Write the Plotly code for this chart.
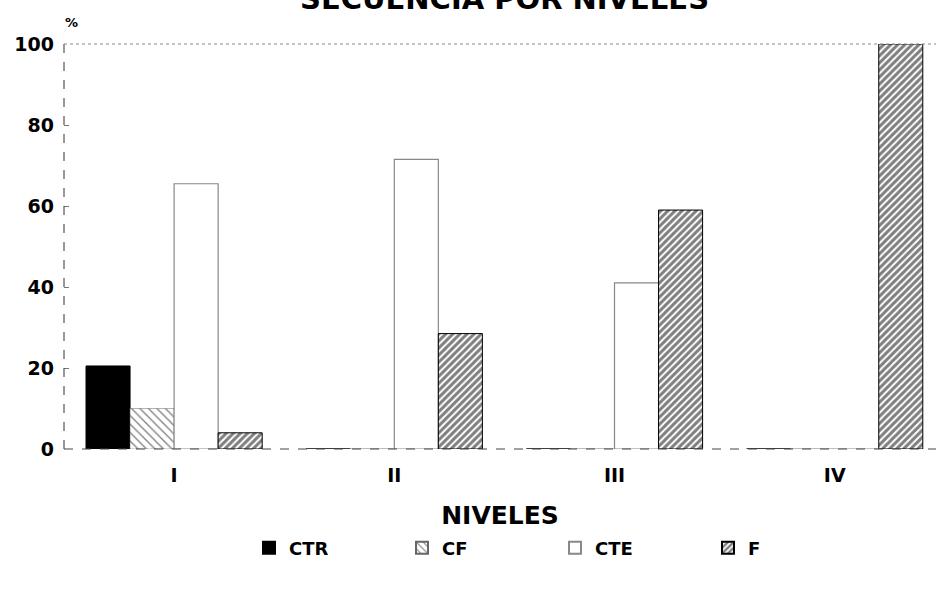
import plotly.graph_objects as go

niveles = ["I", "II", "III", "IV"]
ctr = [20.5, 0, 0, 0]
cf = [10, 0, 0, 0]
cte = [65.5, 71.5, 41, 0]
f = [4, 28.5, 59, 100]
y_ticks = [0, 20, 40, 60, 80, 100]

FONT = "DejaVu Sans, Liberation Sans, Arial, sans-serif"
TOP = 44
PLOT_H = 405

fig = go.Figure()
fig.add_trace(go.Bar(name="CTR", x=niveles, y=ctr,
                     marker=dict(color="black", line=dict(color="black", width=1))))
fig.add_trace(go.Bar(name="CF", x=niveles, y=cf,
                     marker=dict(color="white", line=dict(color="#666", width=0.5),
                                 pattern=dict(shape="\\", fgcolor="black", bgcolor="white",
                                              size=6, solidity=0.22))))
fig.add_trace(go.Bar(name="CTE", x=niveles, y=cte,
                     marker=dict(color="white", line=dict(color="#888", width=1.2))))
fig.add_trace(go.Bar(name="F", x=niveles, y=f,
                     marker=dict(color="white", line=dict(color="black", width=1),
                                 pattern=dict(shape="/", fgcolor="black", bgcolor="white",
                                              size=5, solidity=0.6))))

fig.update_layout(
    width=936, height=590,
    margin=dict(l=64, r=0, t=TOP, b=590 - TOP - PLOT_H, autoexpand=False),
    paper_bgcolor="white", plot_bgcolor="white",
    barmode="group", bargap=0.2, bargroupgap=0,
    font=dict(family=FONT, color="black"),
    showlegend=True,
    legend=dict(orientation="h", x=(249 - 64) / 872, xanchor="left",
                y=-(548 - TOP - PLOT_H) / PLOT_H, yanchor="middle",
                entrywidth=108, entrywidthmode="pixels",
                font=dict(size=18, family=FONT, weight="bold"), itemsizing="constant"),
    xaxis=dict(range=[-0.5, 3.46], showgrid=False, showline=False, zeroline=False,
               automargin=False,
               ticks="", tickfont=dict(size=19, family=FONT, weight="bold"),
               ticklabelstandoff=13,
               title=dict(text="NIVELES", font=dict(size=25, family=FONT, weight="bold"),
                          standoff=21)),
    yaxis=dict(range=[0, 100], tickvals=y_ticks, showgrid=False, showline=False,
               automargin=False,
               zeroline=False, ticks="inside", ticklen=5, tickcolor="#777",
               tickfont=dict(size=19, family=FONT, weight="bold"), ticklabelstandoff=9),
    shapes=[
        dict(type="line", xref="paper", yref="paper", x0=0, x1=0, y0=0, y1=1,
             line=dict(color="#333", width=1, dash="dash")),
        dict(type="line", xref="paper", yref="paper", x0=0, x1=1, y0=0, y1=0,
             line=dict(color="#444", width=1, dash="dash")),
        dict(type="line", xref="paper", yref="paper", x0=0, x1=1, y0=1, y1=1,
             line=dict(color="#888", width=1, dash="dot")),
    ],
    annotations=[
        dict(text="<b>SECUENCIA POR NIVELES</b>", xref="paper", yref="paper",
             x=(504 - 64) / 872, y=1 + (TOP + 1) / PLOT_H, xanchor="center",
             yanchor="middle", showarrow=False, font=dict(size=29, family=FONT)),
        dict(text="<b>%</b>", xref="paper", yref="paper",
             x=(71 - 64) / 872, y=1 + (TOP - 22) / PLOT_H, xanchor="center",
             yanchor="middle", showarrow=False, font=dict(size=13, family=FONT)),
    ],
)

fig.write_html("out.html", config={"displayModeBar": False},
               post_script="document.body.style.margin='0';")
